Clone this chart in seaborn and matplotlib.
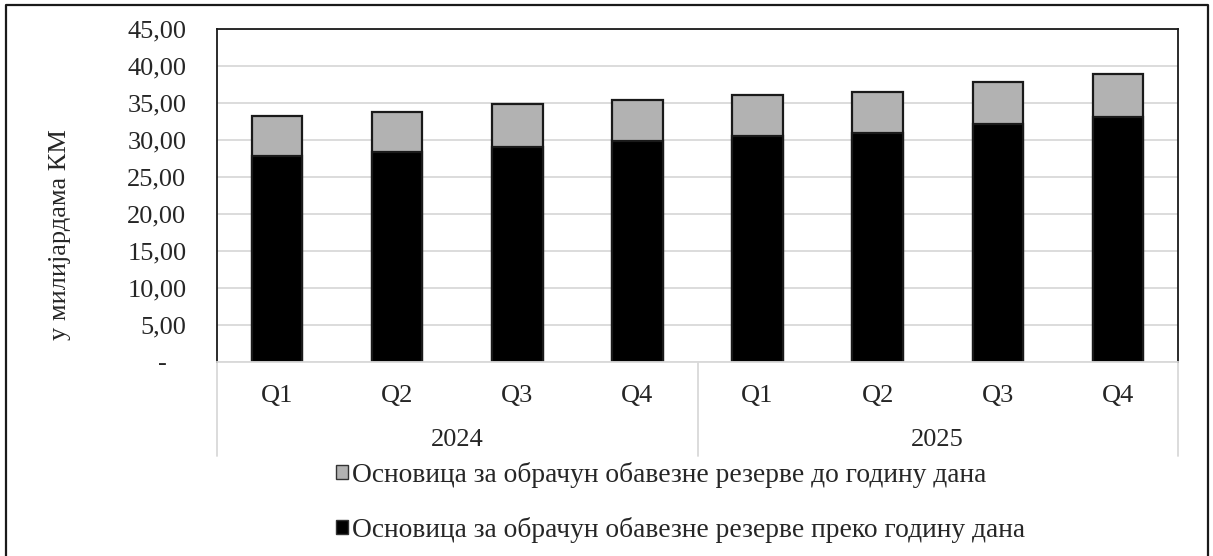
import matplotlib
matplotlib.use("Agg")
import matplotlib.pyplot as plt
import matplotlib.transforms as mtransforms
from matplotlib.patches import Patch
from matplotlib.lines import Line2D
import pandas as pd
import seaborn as sns

# Quarterly data, billions KM
years = ["2024", "2025"]
quarters = ["Q1", "Q2", "Q3", "Q4"]
over_one_year = [27.9, 28.4, 29.1, 29.85, 30.5, 31.0, 32.2, 33.1]
up_to_one_year = [5.35, 5.4, 5.75, 5.5, 5.55, 5.55, 5.7, 5.85]
series_labels = [
    "Основица за обрачун обавезне резерве до годину дана",
    "Основица за обрачун обавезне резерве преко годину дана",
]
y_ticks = [0, 5, 10, 15, 20, 25, 30, 35, 40, 45]

periods = [f"{y} {q}" for y in years for q in quarters]
df = pd.DataFrame({
    "period": periods,
    "over": over_one_year,
    "total": [a + b for a, b in zip(over_one_year, up_to_one_year)],
})

sns.set_theme(style="white")
plt.rcParams["font.family"] = ["Liberation Serif", "DejaVu Serif"]
FS = 19

W, H = 1213, 556
fig = plt.figure(figsize=(W / 100, H / 100), dpi=100)
ax_l, ax_r, ax_t, ax_b = 217, 1178, 29, 362
ax = fig.add_axes([ax_l / W, 1 - ax_b / H, (ax_r - ax_l) / W, (ax_b - ax_t) / H])

gray = "#b2b2b2"
sns.barplot(data=df, x="period", y="total", order=periods, color=gray,
            saturation=1, width=0.42, edgecolor="#1a1a1a", linewidth=1.6, ax=ax)
sns.barplot(data=df, x="period", y="over", order=periods, color="black",
            saturation=1, width=0.42, edgecolor="#1a1a1a", linewidth=1.6, ax=ax)

ax.set_xlim(-0.5, len(periods) - 0.5)
ax.set_ylim(0, 45)
ax.set_yticks(y_ticks)
ax.set_yticklabels(["-   " if v == 0 else f"{v:.2f}".replace(".", ",") for v in y_ticks],
                   fontsize=FS)
ax.tick_params(axis="y", length=0, pad=22)
ax.set_xticks([])
ax.set_xlabel("")
ax.set_ylabel("")
ax.grid(axis="y", color="#d9d9d9", linewidth=1.3)
ax.set_axisbelow(True)
for side in ["left", "top", "right"]:
    ax.spines[side].set_visible(True)
    ax.spines[side].set_color("#1a1a1a")
    ax.spines[side].set_linewidth(1.3)
ax.spines["bottom"].set_color("#d9d9d9")
ax.spines["bottom"].set_linewidth(1.3)

# Two-level category axis: quarters and years
ah = ax_b - ax_t
trans = mtransforms.blended_transform_factory(ax.transData, ax.transAxes)
for i, p in enumerate(periods):
    ax.text(i, -(396 - ax_b) / ah, p.split()[1], transform=trans,
            ha="center", va="center", fontsize=FS)
for j, y in enumerate(years):
    ax.text(j * 4 + 1.5, -(440 - ax_b) / ah, y, transform=trans,
            ha="center", va="center", fontsize=FS)
for xs in [-0.5, 3.5, 7.5]:
    ax.add_line(Line2D([xs, xs], [0, -(456 - ax_b) / ah], transform=trans,
                       color="#d9d9d9", linewidth=1.3, clip_on=False))

fig.text(60 / W, 1 - 235 / H, "у милијардама КМ", rotation=90,
         ha="center", va="center", fontsize=FS)

handles = [Patch(facecolor=gray, edgecolor="#333333", linewidth=1.0),
           Patch(facecolor="black", edgecolor="#333333", linewidth=1.0)]
fig.legend(handles, series_labels, loc="upper left",
           bbox_to_anchor=(336 / W, 1 - 462 / H), frameon=False, fontsize=19.8,
           handlelength=0.42, handleheight=0.42, handletextpad=0.15,
           labelspacing=1.05, borderpad=0, borderaxespad=0)

# Outer frame
frame = Line2D([6 / W, 6 / W, 1208 / W, 1208 / W],
               [0, 1 - 5 / H, 1 - 5 / H, 0], transform=fig.transFigure,
               color="#1a1a1a", linewidth=1.6)
fig.add_artist(frame)

fig.savefig("out.png", dpi=100)
